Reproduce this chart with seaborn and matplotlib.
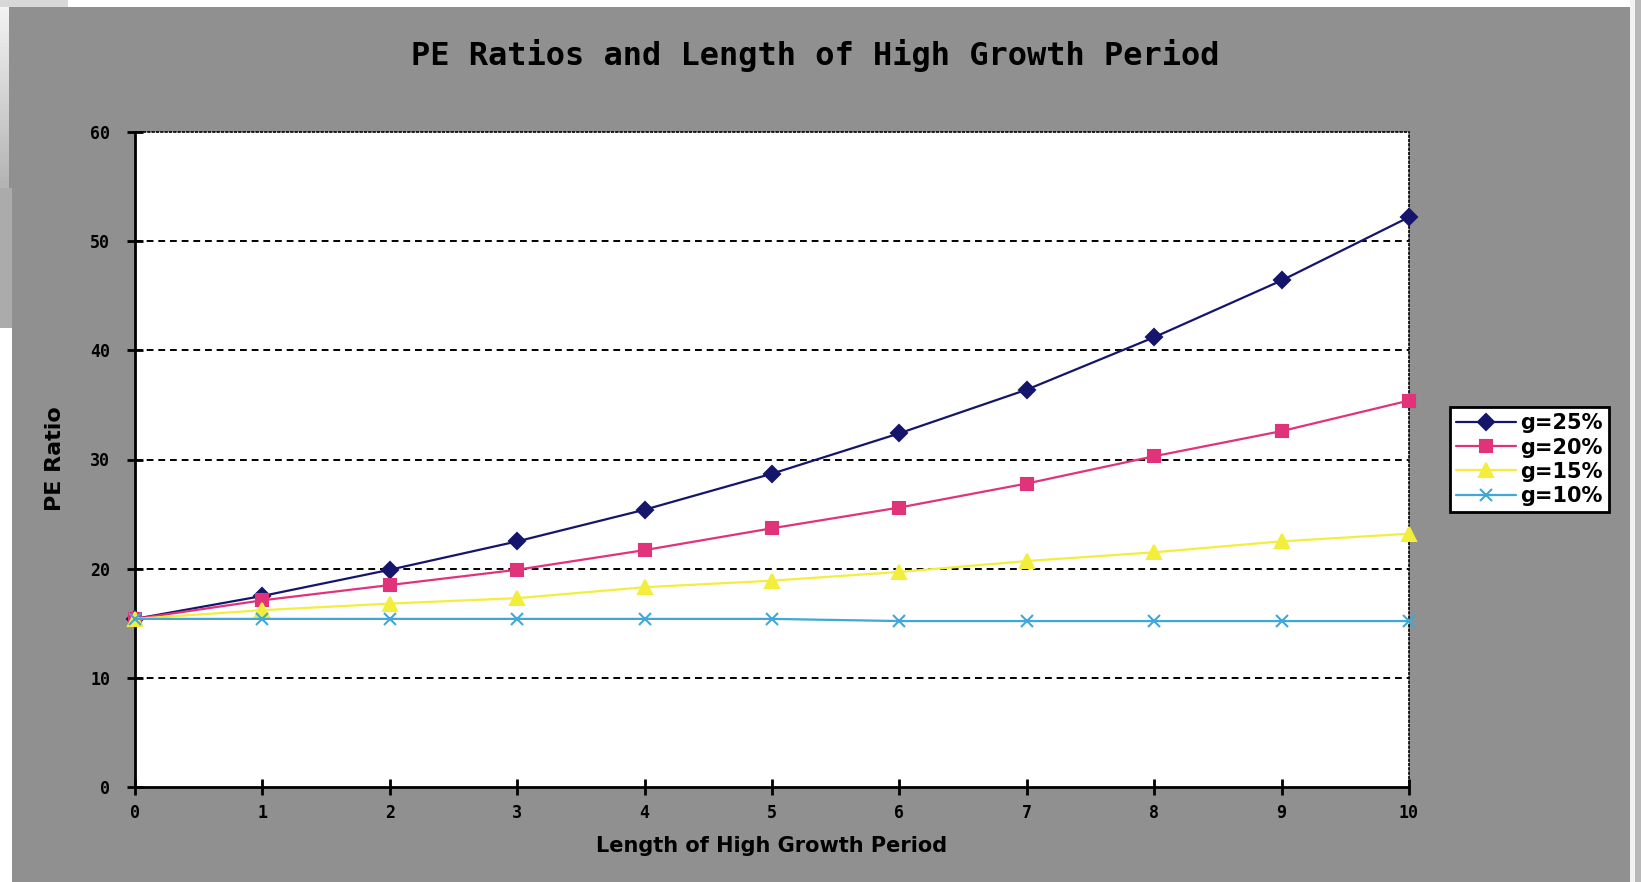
import numpy as np
import pandas as pd
import matplotlib
matplotlib.use("Agg")
import matplotlib.pyplot as plt
from matplotlib.patches import Rectangle
import seaborn as sns

# data
years = [0, 1, 2, 3, 4, 5, 6, 7, 8, 9, 10]
pe_g25 = [15.4, 17.5, 19.9, 22.5, 25.4, 28.7, 32.4, 36.4, 41.2, 46.4, 52.2]
pe_g20 = [15.4, 17.1, 18.5, 19.9, 21.7, 23.7, 25.6, 27.8, 30.3, 32.6, 35.4]
pe_g15 = [15.4, 16.2, 16.8, 17.3, 18.3, 18.9, 19.7, 20.7, 21.5, 22.5, 23.2]
pe_g10 = [15.4, 15.4, 15.4, 15.4, 15.4, 15.4, 15.2, 15.2, 15.2, 15.2, 15.2]
labels = ["g=25%", "g=20%", "g=15%", "g=10%"]

sns.set_style("white")
plt.rcParams["font.family"] = ["DejaVu Sans"]

W, H = 1641, 882
fig = plt.figure(figsize=(W / 100, H / 100), dpi=100, facecolor="#909090")

def box(x0, y0, x1, y1, color):
    # pixel box (top-left origin) -> figure fraction
    fig.add_artist(Rectangle((x0 / W, 1 - y1 / H), (x1 - x0) / W, (y1 - y0) / H,
                             transform=fig.transFigure, color=color, lw=0, zorder=-5))

# slide frame bits around the chart
box(0, 0, W, 7, "white")
box(0, 0, 68, 7, "#d8d8d8")
box(0, 188, 12, 328, "#ababab")
box(0, 328, 12, H, "white")
box(1630, 0, 1635, H, "#f2f2f2")
box(1635, 0, W, H, "#b8b8b8")
grad = fig.add_axes([0, 1 - 188 / H, 9 / W, 181 / H])
grad.imshow(np.linspace(0.95, 0.7, 50)[:, None], cmap="gray", vmin=0, vmax=1, aspect="auto")
grad.axis("off")

ax = fig.add_axes([135 / W, 95 / H, 1274 / W, 655 / H])
ax.set_facecolor("white")

df = pd.DataFrame({"year": years, labels[0]: pe_g25, labels[1]: pe_g20,
                   labels[2]: pe_g15, labels[3]: pe_g10})
styles = [("#15156b", "D", 8), ("#e0337a", "s", 8), ("#f3ee3c", "^", 10), ("#3fa8d8", "x", 9)]
for lab, (col, mk, ms) in zip(labels, styles):
    sns.lineplot(data=df, x="year", y=lab, ax=ax, color=col, lw=1.6, marker=mk,
                 markersize=ms, markeredgecolor=col, markeredgewidth=1.5,
                 label=lab, zorder=3, clip_on=False)

ax.set_xlim(0, 10)
ax.set_ylim(0, 60)
ax.set_xticks(years)
ax.set_yticks(range(0, 61, 10))
for v in range(10, 60, 10):
    ax.axhline(v, color="black", lw=1.4, ls=(0, (3.5, 2.5)), zorder=1)

for s in ["left", "bottom"]:
    ax.spines[s].set_color("black")
    ax.spines[s].set_linewidth(2)
for s in ["top", "right"]:
    ax.spines[s].set_color("black")
    ax.spines[s].set_linewidth(1.2)
    ax.spines[s].set_linestyle((0, (1, 1.6)))

ax.tick_params(axis="both", which="major", direction="inout", length=12, width=2,
               color="black", labelsize=12, labelcolor="black", pad=6,
               left=True, bottom=True, top=False, right=False)
ax.tick_params(axis="y", pad=12)
for t in ax.get_xticklabels() + ax.get_yticklabels():
    t.set_family("DejaVu Sans Mono")
    t.set_fontweight("bold")

ax.set_xlabel("")
ax.set_ylabel("")
fig.text(772 / W, 1 - 846 / H, "Length of High Growth Period", ha="center", va="center",
         fontsize=15, fontweight="bold", color="black")
fig.text(55 / W, 1 - 459 / H, "PE Ratio", ha="center", va="center", rotation=90,
         fontsize=16, fontweight="bold", color="black",
         family=["Liberation Sans Narrow", "DejaVu Sans"])
fig.text(815 / W, 1 - 55 / H, "PE Ratios and Length of High Growth Period", ha="center",
         va="center", fontsize=23, fontweight="bold", color="black", family="DejaVu Sans Mono")

leg = ax.legend(loc="upper left", bbox_to_anchor=(1.032, 0.58), borderaxespad=0,
                frameon=True, fancybox=False, edgecolor="black", facecolor="white",
                framealpha=1, handlelength=2.9, labelspacing=0.2, borderpad=0.3,
                handletextpad=0.2, labelcolor="black", prop={"weight": "bold", "size": 15})
leg.get_frame().set_linewidth(2)

fig.savefig("out.png", dpi=100, facecolor=fig.get_facecolor())
